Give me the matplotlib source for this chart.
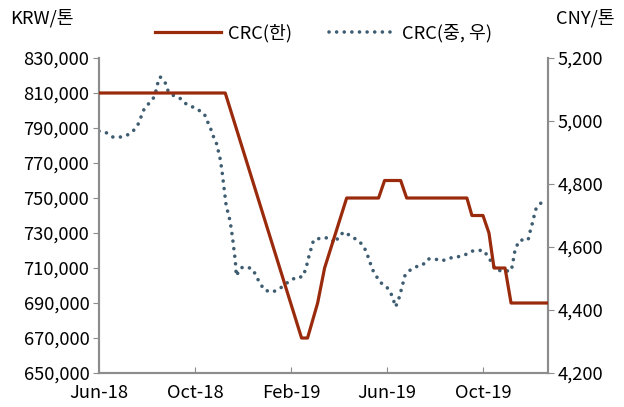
import matplotlib
matplotlib.use("Agg")
import matplotlib.pyplot as plt
from matplotlib.ticker import FuncFormatter

plt.rcParams['font.family'] = ['Noto Sans CJK KR', 'DejaVu Sans']

# x = months since Jun-2018
krw_x = [0.00, 5.26, 8.44, 8.69, 9.11, 9.40, 10.32, 11.65, 11.90, 12.57, 12.82,
         15.33, 15.54, 16.00, 16.25, 16.46, 16.92, 17.17, 18.71]
krw_y = [810000, 810000, 670000, 670000, 690000, 710000, 750000, 750000, 760000,
         760000, 750000, 750000, 740000, 740000, 730000, 710000, 710000, 690000, 690000]

cny_x = [0.00, 0.33, 0.58, 0.88, 1.17, 1.42, 1.63, 1.75, 1.88, 2.09, 2.30, 2.38, 2.46,
         2.55, 2.76, 2.88, 3.13, 3.43, 3.63, 4.09, 4.39, 4.51, 4.64, 4.76, 4.89, 4.97,
         5.05, 5.10, 5.14, 5.18, 5.22, 5.26, 5.30, 5.39, 5.47, 5.51, 5.56, 5.60, 5.64,
         5.68, 5.72, 5.89, 6.06, 6.31, 6.43, 6.56, 6.73, 6.89, 7.23, 7.52, 7.77, 8.23,
         8.48, 8.60, 8.69, 8.77, 8.86, 8.94, 9.27, 9.57, 9.86, 9.98, 10.23, 10.53, 10.78,
         11.03, 11.15, 11.28, 11.36, 11.53, 11.70, 11.99, 12.16, 12.28, 12.36, 12.49,
         12.57, 12.66, 12.74, 12.91, 13.20, 13.49, 13.70, 13.99, 14.29, 14.62, 14.91,
         15.25, 15.54, 16.00, 16.21, 16.37, 16.54, 16.83, 17.17, 17.25, 17.29, 17.38,
         17.54, 17.71, 17.88, 17.96, 18.05, 18.13, 18.21, 18.42, 18.63]
cny_y = [4968, 4962, 4949, 4949, 4955, 4968, 4990, 5013, 5038, 5057, 5076, 5098, 5124,
         5140, 5121, 5095, 5079, 5070, 5054, 5038, 5022, 5000, 4978, 4952, 4930, 4905,
         4879, 4854, 4832, 4806, 4781, 4756, 4730, 4705, 4679, 4657, 4632, 4606, 4581,
         4556, 4508, 4533, 4537, 4533, 4527, 4505, 4483, 4463, 4457, 4467, 4483, 4505,
         4505, 4527, 4552, 4578, 4600, 4622, 4629, 4629, 4613, 4635, 4648, 4632, 4622,
         4603, 4581, 4556, 4533, 4511, 4489, 4473, 4454, 4429, 4410, 4435, 4457, 4483,
         4508, 4524, 4537, 4543, 4562, 4562, 4556, 4565, 4568, 4575, 4587, 4590, 4571,
         4549, 4527, 4524, 4524, 4549, 4575, 4600, 4622, 4622, 4622, 4648, 4673, 4698,
         4721, 4740, 4756]

tick_pos = [0, 4, 8, 12, 16]
tick_labels = ['Jun-18', 'Oct-18', 'Feb-19', 'Jun-19', 'Oct-19']

red = '#9a2a0c'
blue = '#3e5d70'
grey = '#8c8c8c'
fs = 13.2

fig = plt.figure(figsize=(6.24, 4.07), dpi=100)
ax = fig.add_axes([0.1587, 0.0835, 0.7195, 0.774])
ax2 = ax.twinx()

l1, = ax.plot(krw_x, krw_y, color=red, lw=2.3, label='CRC(한)', zorder=3)
l2, = ax2.plot(cny_x, cny_y, color=blue, lw=2.6, linestyle=(0, (0.01, 2.1)),
               dash_capstyle='round', label='CRC(중, 우)')
ax.set_zorder(ax2.get_zorder() + 1)
ax.patch.set_visible(False)

ax.set_xlim(0, 18.71)
ax.set_ylim(650000, 830000)
ax2.set_ylim(4200, 5200)
ax.set_yticks(range(650000, 830001, 20000))
ax2.set_yticks(range(4200, 5201, 200))
ax.set_xticks(tick_pos)
ax.set_xticklabels(tick_labels)
comma = FuncFormatter(lambda v, p: f'{int(v):,}')
ax.yaxis.set_major_formatter(comma)
ax2.yaxis.set_major_formatter(comma)

for a in (ax, ax2):
    a.spines['top'].set_visible(False)
    for s in ('left', 'right', 'bottom'):
        a.spines[s].set_color(grey)
        a.spines[s].set_linewidth(1.5)
ax.tick_params(axis='y', direction='out', length=4, color=grey, labelsize=fs, pad=3)
ax2.tick_params(axis='y', direction='out', length=4, color=grey, labelsize=fs, pad=3)
ax.tick_params(axis='x', direction='in', length=4, color=grey, labelsize=fs, pad=8)

fig.text(0.016, 0.955, 'KRW/톤', fontsize=fs, va='center', ha='left')
fig.text(0.985, 0.955, 'CNY/톤', fontsize=fs, va='center', ha='right')

fig.legend(handles=[l1, l2], loc='center', bbox_to_anchor=(0.518, 0.918), ncol=2,
           frameon=False, fontsize=fs, handlelength=3.6, handletextpad=0.4,
           columnspacing=2.0)

fig.savefig('out.png', dpi=100)
